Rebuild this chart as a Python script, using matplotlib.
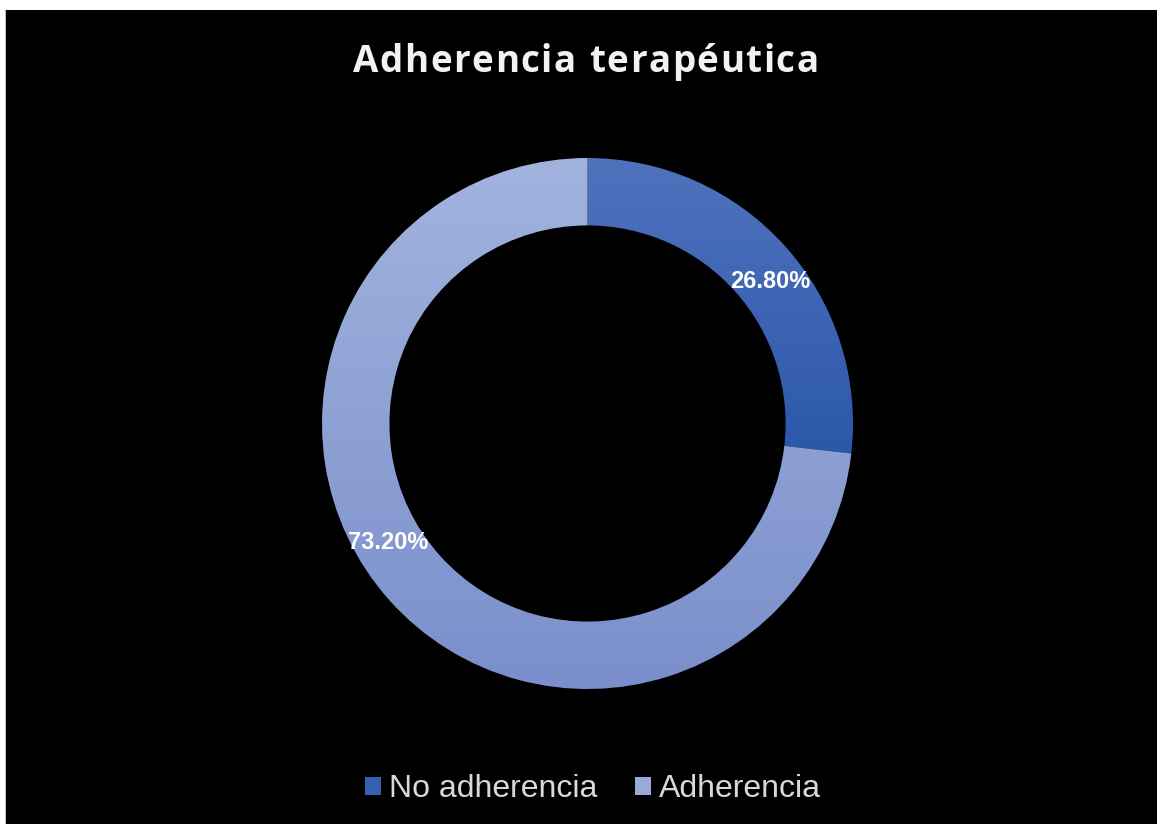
import numpy as np
import matplotlib
matplotlib.use("Agg")
import matplotlib.pyplot as plt
from matplotlib.colors import LinearSegmentedColormap
from matplotlib.patches import Rectangle

# ---- data ----
title = "Adherencia terapéutica"
categories = ["No adherencia", "Adherencia"]
values = [26.80, 73.20]
value_labels = ["26.80%", "73.20%"]

# ---- styles ----
grad_top = ["#5072bd", "#a2b3de"]
grad_bottom = ["#2c58aa", "#7a8fcb"]
legend_colors = ["#3560b0", "#97aadb"]
label_angle_shift = [-4.0, -11.0]  # degrees, label placement tweak

W, H = 1157, 824
fig = plt.figure(figsize=(W / 100, H / 100), dpi=100, facecolor="white")

# black chart area with white margin at top/left
fig.patches.append(Rectangle((6 / W, 0), 1 - 6 / W, 1 - 10 / H, transform=fig.transFigure,
                             facecolor="black", edgecolor="none", zorder=-5))
fig.patches.append(Rectangle((5 / W, 0), 1.2 / W, 1 - 10 / H, transform=fig.transFigure,
                             facecolor="#bfbfbf", edgecolor="none", zorder=-5))

cx, cy, R = 587.5, 423.5, 265.5
ax = fig.add_axes([(cx - R) / W, (H - cy - R) / H, 2 * R / W, 2 * R / H])
ax.set_zorder(2)
ax.patch.set_visible(False)

width = 0.254
wedges, _ = ax.pie(values, startangle=90, counterclock=False, radius=1,
                   wedgeprops=dict(width=width, edgecolor="none", linewidth=0))

# vertical gradient fill for each wedge
for i, w in enumerate(wedges):
    w.set_facecolor("none")
    bb = w.get_path().get_extents(w.get_patch_transform())
    cmap = LinearSegmentedColormap.from_list(f"g{i}", [grad_bottom[i], grad_top[i]])
    grad = np.linspace(0, 1, 256).reshape(-1, 1)
    im = ax.imshow(grad, cmap=cmap, origin="lower", aspect="auto",
                   extent=[bb.x0, bb.x1, bb.y0, bb.y1], zorder=1, interpolation="bilinear")
    im.set_clip_path(w)

ax.set_xlim(-1, 1)
ax.set_ylim(-1, 1)
ax.set_aspect("equal")
ax.axis("off")

# data labels
rmid = 1 - width / 2
for i, w in enumerate(wedges):
    ang = np.deg2rad((w.theta1 + w.theta2) / 2 + label_angle_shift[i])
    ax.text(rmid * np.cos(ang), rmid * np.sin(ang), value_labels[i], color="white",
            fontsize=17, fontweight="bold", family="Liberation Sans",
            ha="center", va="center", zorder=5)

# title with letter spacing (char by char)
renderer = fig.canvas.get_renderer()
title_size = 26.5
spacing_px = 1.5
widths = []
for ch in title:
    t = fig.text(0, 0, ch if ch != " " else "n", fontsize=title_size, fontweight="bold",
                 family="Open Sans")
    bbw = t.get_window_extent(renderer).width
    if ch == " ":
        bbw *= 0.45
    t.remove()
    widths.append(bbw)
total = sum(widths) + spacing_px * (len(title) - 1)
x = 585.5 - total / 2
for ch, wpx in zip(title, widths):
    if ch != " ":
        fig.text(x / W, 1 - 72 / H, ch, color="#f2f2f2", fontsize=title_size,
                 fontweight="bold", family="Open Sans", ha="left", va="baseline", zorder=3)
    x += wpx + spacing_px

# legend
handles = [Rectangle((0, 0), 1, 1, facecolor=c, edgecolor="none") for c in legend_colors]
leg = fig.legend(handles, categories, loc="center", bbox_to_anchor=(593 / W, 1 - 789 / H),
                 ncol=2, frameon=False,
                 prop=dict(family="Liberation Sans", size=23),
                 handlelength=0.5, handleheight=0.5, handletextpad=0.25, columnspacing=1.2)
for t in leg.get_texts():
    t.set_color("#d9d9d9")

fig.savefig("out.png", dpi=100, facecolor="white")
